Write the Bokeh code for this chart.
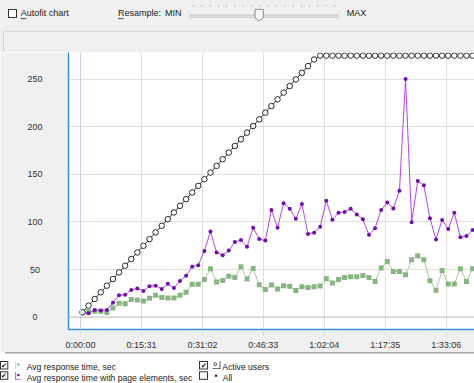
from bokeh.plotting import figure
from bokeh.layouts import column
from bokeh.models import Range1d, FixedTicker, Span, ColumnDataSource, Div
from bokeh.embed import file_html
from bokeh.resources import INLINE

# ---------------- data ----------------
sample_start_s = 30.5
sample_step_s = 93.1

active_users = [5, 12, 19, 26, 33, 40, 47, 54, 61, 68, 75, 82, 89, 96, 103, 110,
                117, 124, 131, 138, 145, 152, 159, 166, 173, 180, 187, 194, 201,
                208, 215, 222, 229, 236, 243, 250, 257, 264, 271, 275, 275, 275,
                275, 275, 275, 275, 275, 275, 275, 275, 275, 275, 275, 275, 275,
                275, 275, 275, 275, 275, 275, 275, 275, 275, 275, 275]

resp_time_page = [5, 4, 7.5, 7, 7.5, 15, 23, 23.5, 28.5, 30, 27.5, 32.5, 33, 29.5,
                  35, 30.5, 38, 43.5, 53, 54.6, 69.6, 90, 68, 65, 70, 79, 81, 74,
                  94, 82, 80.5, 112.6, 94, 119.6, 114, 103.5, 118.8, 87.4, 88.8,
                  95, 122.3, 102.4, 109.7, 110.5, 114, 108, 102.8, 86.7, 93.4,
                  112.6, 120.6, 114.3, 132.8, 250.3, 99.7, 143, 138.7, 104, 81.7,
                  102.2, 92.5, 109.7, 84, 85.2, 91.6, 95]

resp_time = [5, 5.5, 6, 6, 4.7, 9.5, 14.5, 14, 18.5, 18, 17, 19.8, 22.8, 20.5, 20,
             20, 23, 26, 34.5, 34.5, 39.5, 50.8, 37, 38.5, 43, 41.5, 52.8, 40, 51,
             34, 29, 33.8, 29.5, 33, 32.3, 28, 32, 31, 32, 32.6, 40.3, 35.8, 39.6,
             41.7, 42.4, 42.4, 43.8, 41.7, 37.5, 51.6, 58.4, 48, 48, 44.5, 60.2,
             64.4, 60.2, 38.2, 28.2, 49, 34.7, 34.7, 50.9, 37.5, 50.8, 52]

x_ticks = [0, 931, 1862, 2793, 3724, 4655, 5586]
x_tick_labels = ["0:00:00", "0:15:31", "0:31:02", "0:46:33", "1:02:04", "1:17:35", "1:33:06"]
y_ticks = [0, 50, 100, 150, 200, 250]
y_tick_labels = ["0\u2007", "50\u2008", "100", "150", "200", "250"]

legend_labels = ["Avg response time, sec", "Avg response time with page elements, sec",
                 "Active users", "All"]
toolbar_labels = ["Autofit chart", "Resample:", "MIN", "MAX"]

times = [sample_start_s + sample_step_s * i for i in range(len(active_users))]

FONT = "Liberation Sans"
W = 474
BG = "#f0f0f0"

# ---------------- main chart ----------------
p = figure(width=W, height=300, output_backend="svg", toolbar_location=None,
           x_range=Range1d(-183, 6018), y_range=Range1d(-13.1, 278.3),
           min_border_left=68, min_border_right=0, min_border_top=0,
           min_border_bottom=22, background_fill_color="white",
           border_fill_color=BG, outline_line_color=None)

for ax in (p.xaxis[0], p.yaxis[0]):
    ax.axis_line_color = "#3b8ee8"
    ax.axis_line_width = 1.5
    ax.minor_tick_line_color = None
    ax.major_label_text_font = FONT
    ax.major_label_text_font_size = "9px"
    ax.major_label_text_color = "#303030"

p.xaxis.ticker = FixedTicker(ticks=x_ticks)
p.xaxis.major_label_overrides = dict(zip(x_ticks, x_tick_labels))
p.xaxis.major_tick_out = 6
p.xaxis.major_tick_in = 0
p.xaxis.major_tick_line_color = "#d4d4d4"
p.xaxis.major_label_standoff = 4

p.yaxis.ticker = FixedTicker(ticks=y_ticks)
p.yaxis.major_label_overrides = dict(zip(y_ticks, y_tick_labels))
p.yaxis.major_tick_out = 0
p.yaxis.major_tick_in = 0
p.yaxis.major_label_standoff = 26

p.xgrid.ticker = FixedTicker(ticks=x_ticks)
p.ygrid.ticker = FixedTicker(ticks=y_ticks)
p.grid.grid_line_color = "#e0e0d6"
p.grid.grid_line_width = 1

p.add_layout(Span(location=0, dimension="width", line_color="#c6c6c6", line_width=1))
p.add_layout(Span(location=0, dimension="height", line_color="#c5cedc", line_width=1))

src = ColumnDataSource(dict(t=times, users=active_users, rt=resp_time, rtp=resp_time_page))

p.line("t", "rt", source=src, line_color="#a9c5a2", line_width=1)
p.scatter("t", "rt", source=src, marker="square", size=5, fill_color="#89b584",
          line_color=None)
p.line("t", "rtp", source=src, line_color="#b444e6", line_width=1)
p.scatter("t", "rtp", source=src, marker="circle", size=4, fill_color="#6d0fb0",
          line_color=None)
p.line("t", "users", source=src, line_color="#2a2a2a", line_width=1)
p.scatter("t", "users", source=src, marker="circle", size=5.5, fill_color="white",
          line_color="#2a2a2a", line_width=1)

# ---------------- window chrome (inline SVG in Divs) ----------------
TXT = f'font-family="{FONT}" fill="#202020" dominant-baseline="central"'


def text(x, y, s, size="9px"):
    return f'<text x="{x}" y="{y}" font-size="{size}" {TXT}>{s}</text>'


def check(x, y):
    return (f'<text x="{x}" y="{y}" font-family="DejaVu Sans" font-size="7px" '
            f'fill="#111111" text-anchor="middle" dominant-baseline="central">\u2714</text>')


slider_ticks = "".join(
    f'<rect x="{193 + k * 8.3:.1f}" y="5" width="0.9" height="1.6" fill="#b4b4b4"/>'
    for k in range(18))

top_svg = (
    '<svg xmlns="http://www.w3.org/2000/svg" width="474" height="52" style="display:block">'
    f'<rect x="0" y="0" width="474" height="52" fill="{BG}"/>'
    '<path d="M3.5 52 V31.5 H474" fill="none" stroke="#d6d6d6" stroke-width="1"/>'
    '<rect x="8.5" y="9.5" width="8" height="8" fill="#ffffff" stroke="#333333" stroke-width="1"/>'
    + text(20.7, 13.3, toolbar_labels[0])
    + '<rect x="20.7" y="18.3" width="5.6" height="0.8" fill="#202020"/>'
    + text(118, 13.3, toolbar_labels[1])
    + '<rect x="118" y="18.3" width="5.6" height="0.8" fill="#202020"/>'
    + text(165, 13.3, toolbar_labels[2])
    + slider_ticks
    + '<rect x="190" y="15" width="148" height="2.2" fill="#e9e9e9" stroke="#b9b9b9" stroke-width="0.8"/>'
    '<polygon points="255,9.3 263.3,9.3 263.3,18 259.2,20.8 255,18" fill="#f4f4f4" '
    'stroke="#8e8e8e" stroke-width="1"/>'
    + text(346.7, 13.3, toolbar_labels[3])
    + '</svg>')

# bottom strip: local y = page y - 352
bot_svg = (
    '<svg xmlns="http://www.w3.org/2000/svg" width="474" height="31" style="display:block">'
    '<rect x="0" y="0" width="474" height="31" fill="#ffffff"/>'
    '<rect x="5" y="0" width="469" height="1.5" fill="#a2a2a2"/>'
    # checkboxes
    '<rect x="0.5" y="9.5" width="7.3" height="7.5" fill="#ffffff" stroke="#333333"/>'
    + check(4.2, 13.4)
    + '<rect x="0.5" y="19.8" width="7.3" height="7.5" fill="#ffffff" stroke="#333333"/>'
    + check(4.2, 23.7)
    + '<rect x="199.5" y="9.5" width="8" height="7.5" fill="#ffffff" stroke="#333333"/>'
    + check(203.5, 13.4)
    + '<rect x="199.5" y="19.8" width="8" height="7.5" fill="#ffffff" stroke="#333333"/>'
    # icons
    '<rect x="15.3" y="9.5" width="0.8" height="7.5" fill="#c4c4c4"/>'
    '<rect x="17.3" y="11.5" width="2.2" height="2.2" fill="#89b584"/>'
    '<rect x="15.3" y="20" width="0.8" height="7.6" fill="#a03ad8"/>'
    '<rect x="15.3" y="26.9" width="5.7" height="0.7" fill="#a03ad8"/>'
    '<rect x="17.3" y="22" width="2.2" height="2.2" fill="#6d0fb0"/>'
    '<circle cx="215.3" cy="12.3" r="1.4" fill="none" stroke="#222222" stroke-width="0.8"/>'
    '<rect x="219.6" y="9" width="0.8" height="8" fill="#333333"/>'
    '<rect x="212.5" y="16.3" width="7.9" height="0.7" fill="#333333"/>'
    '<rect x="215" y="22.6" width="2.2" height="2.2" fill="#222222"/>'
    + text(26.7, 14.7, legend_labels[0], "8.6px")
    + text(26.7, 25.7, legend_labels[1], "8.6px")
    + text(222.3, 14.7, legend_labels[2], "8.6px")
    + text(222.7, 25.7, legend_labels[3], "8.6px")
    + '</svg>')

top = Div(text=top_svg, width=W, height=52, margin=0)
bot = Div(text=bot_svg, width=W, height=31, margin=0)

layout = column(top, p, bot, spacing=0)
open("out.html", "w").write(file_html(layout, INLINE))
